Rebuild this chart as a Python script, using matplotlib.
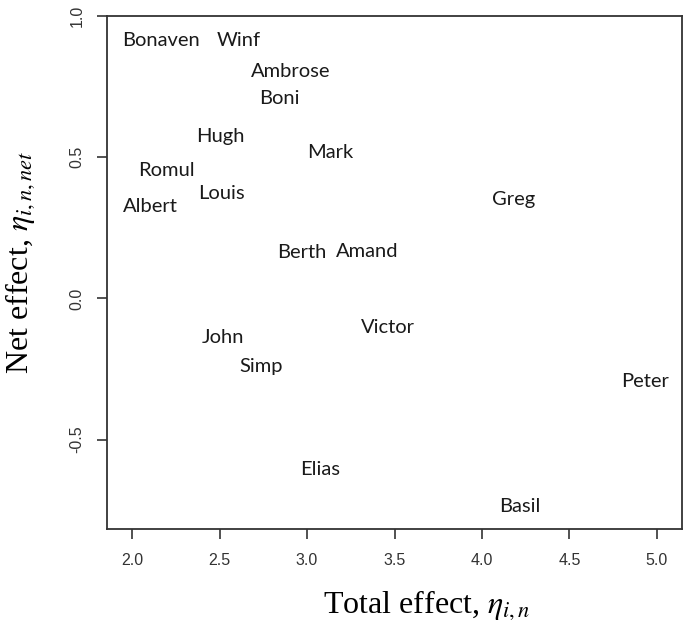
import matplotlib
matplotlib.use("Agg")
import matplotlib.pyplot as plt

names = ["Bonaven", "Winf", "Ambrose", "Boni", "Hugh", "Mark", "Romul", "Louis",
         "Albert", "Berth", "Amand", "Greg", "Victor", "Peter", "John", "Simp",
         "Elias", "Basil"]
total_effect = [2.167, 2.61, 2.905, 2.84, 2.506, 3.131, 2.198, 2.512,
                2.106, 2.97, 3.343, 4.178, 3.465, 4.93, 2.519, 2.74,
                3.077, 4.217]
net_effect = [0.915, 0.915, 0.803, 0.709, 0.573, 0.515, 0.453, 0.373,
              0.326, 0.164, 0.167, 0.350, -0.102, -0.296, -0.138, -0.242,
              -0.607, -0.737]
x_ticks = [2.0, 2.5, 3.0, 3.5, 4.0, 4.5, 5.0]
y_ticks = [-0.5, 0.0, 0.5, 1.0]

plt.rcParams["mathtext.fontset"] = "stix"

fig = plt.figure(figsize=(6.85, 6.42), dpi=100)
ax = fig.add_axes([0.1558, 0.1755, 0.8398, 0.7995])

for n, xv, yv in zip(names, total_effect, net_effect):
    ax.text(xv, yv, n, ha="center", va="center", fontsize=14.5,
            family="Lato", color="#1a1a1a")

ax.set_xlim(1.855, 5.143)
ax.set_ylim(-0.818, 1.0)
ax.set_xticks(x_ticks)
ax.set_xticklabels([f"{v:.1f}" for v in x_ticks])
ax.set_yticks(y_ticks)
ax.set_yticklabels([f"{v:.1f}" for v in y_ticks], rotation=90, va="center")
for lab in ax.get_xticklabels() + ax.get_yticklabels():
    lab.set_family("Liberation Sans")
    lab.set_fontsize(11.5)
    lab.set_color("#333333")
ax.tick_params(length=7, width=1.2, color="#333333")
ax.tick_params(axis="x", pad=10)
ax.tick_params(axis="y", pad=9)
for s in ax.spines.values():
    s.set_linewidth(1.3)
    s.set_color("#333333")

ax.set_xlabel(r"Total effect, $\eta_{i,n}$", family="Liberation Serif",
              fontsize=23, va="center")
ax.set_ylabel(r"Net effect, $\eta_{i,n,net}$", family="Liberation Serif",
              fontsize=23, va="center")
ax.xaxis.set_label_coords((427 - 106.7) / 575.3, -(605 - 529.3) / 513.3)
ax.yaxis.set_label_coords(-(106.7 - 20) / 575.3, (529.3 - 262) / 513.3)

fig.savefig("out.png", dpi=100)
